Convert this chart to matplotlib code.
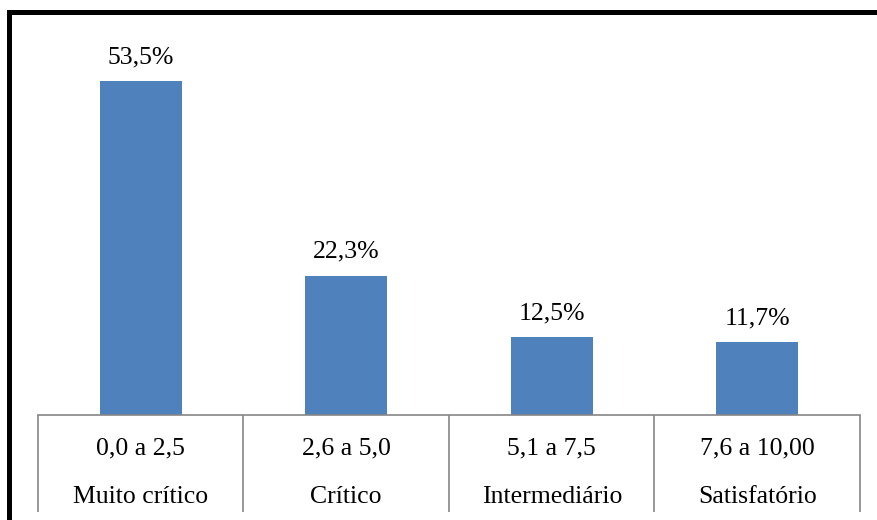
import matplotlib
matplotlib.use("Agg")
import matplotlib.pyplot as plt
from matplotlib.lines import Line2D
import matplotlib.transforms as mtrans

ranges = ["0,0 a 2,5", "2,6 a 5,0", "5,1 a 7,5", "7,6 a 10,00"]
levels = ["Muito crítico", "Crítico", "Intermediário", "Satisfatório"]
values = [53.5, 22.3, 12.5, 11.7]

plt.rcParams['font.family'] = ['Liberation Serif', 'DejaVu Serif']

W, H = 878, 520
fig = plt.figure(figsize=(W / 100, H / 100), dpi=100)
fig.patch.set_facecolor('white')

left_px, right_px, base_px = 38, 860, 415
ymax = 60
px_per_unit = 334 / 53.5
top_px = base_px - ymax * px_per_unit
ax = fig.add_axes([left_px / W, 1 - base_px / H, (right_px - left_px) / W, (base_px - top_px) / H])

x = list(range(len(values)))
bars = ax.bar(x, values, width=0.4, color='#4F81BD', zorder=2)
ax.set_xlim(-0.5, len(values) - 0.5)
ax.set_ylim(0, ymax)

FS = 18.5
for xi, v in zip(x, values):
    ax.text(xi, v + 18 / px_per_unit, f"{v:.1f}%".replace('.', ','), ha='center', va='baseline', fontsize=FS, color='black')

for s in ['top', 'right', 'left']:
    ax.spines[s].set_visible(False)
ax.spines['bottom'].set_color('#868686')
ax.spines['bottom'].set_linewidth(1.2)
ax.set_yticks([])
ax.set_xticks([])
# category separators
sep_len_pt = (512 - base_px) * 72 / 100
ax.set_xticks([i - 0.5 for i in range(len(values) + 1)], minor=True)
ax.tick_params(axis='x', which='minor', length=sep_len_pt, width=1.2, color='#868686', direction='out')

trans = mtrans.blended_transform_factory(ax.transData, fig.transFigure)
for xi, r, l in zip(x, ranges, levels):
    ax.text(xi, 1 - 454 / H, r, transform=trans, ha='center', va='baseline', fontsize=FS)
    ax.text(xi, 1 - 503 / H, l, transform=trans, ha='center', va='baseline', fontsize=FS)

# outer frame (left and top)
fig.add_artist(Line2D([9 / W, 9 / W], [0, 1 - 12 / H], transform=fig.transFigure, color='black', linewidth=3.6, solid_capstyle='projecting'))
fig.add_artist(Line2D([9 / W, 1], [1 - 12 / H, 1 - 12 / H], transform=fig.transFigure, color='black', linewidth=3.6, solid_capstyle='projecting'))

fig.savefig('out.png', dpi=100, facecolor='white')
